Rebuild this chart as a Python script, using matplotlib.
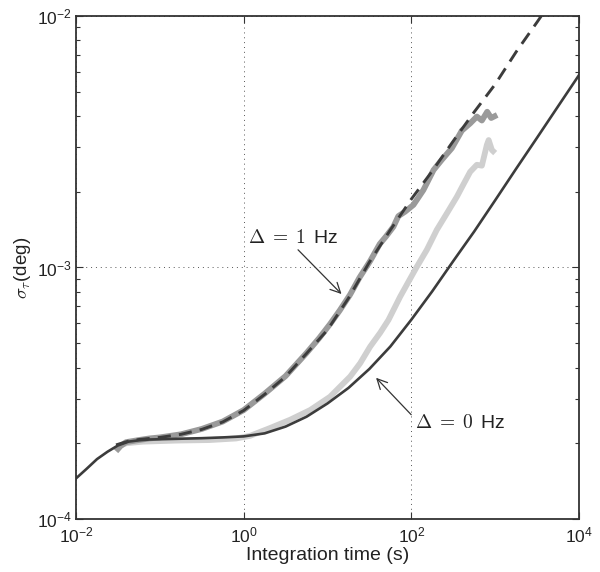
import numpy as np
import matplotlib
matplotlib.use("Agg")
import matplotlib.pyplot as plt
from matplotlib.ticker import FuncFormatter, FixedLocator, LogLocator, NullLocator

plt.rcParams['font.family'] = ['Liberation Sans', 'DejaVu Sans']

# theory, delta = 0 Hz (solid)
t_theory0 = [0.01, 0.0133, 0.0178, 0.0237, 0.0316, 0.0422, 0.0562, 0.075, 0.1,
             0.178, 0.316, 0.562, 1.0, 1.78, 3.16, 5.62, 10, 17.8, 31.6, 56.2,
             100, 178, 316, 562, 1000, 1780, 3160, 5620, 10000]
s_theory0 = [1.45e-4, 1.58e-4, 1.73e-4, 1.85e-4, 1.96e-4, 2.03e-4, 2.055e-4, 2.07e-4,
             2.075e-4, 2.085e-4, 2.095e-4, 2.11e-4, 2.13e-4, 2.19e-4, 2.33e-4, 2.55e-4,
             2.88e-4, 3.32e-4, 3.95e-4, 4.85e-4, 6.2e-4, 8.05e-4, 1.06e-3, 1.39e-3,
             1.85e-3, 2.47e-3, 3.28e-3, 4.37e-3, 5.82e-3]

# theory, delta = 1 Hz (dashed)
t_theory1 = [0.03, 0.0422, 0.0562, 0.075, 0.1, 0.178, 0.316, 0.562, 1.0, 1.78,
             3.16, 5.62, 10, 17.8, 31.6, 56.2, 100, 178, 316, 562, 1000, 1780,
             3160, 3700]
s_theory1 = [1.97e-4, 2.04e-4, 2.07e-4, 2.09e-4, 2.11e-4, 2.17e-4, 2.27e-4, 2.43e-4,
             2.70e-4, 3.13e-4, 3.68e-4, 4.55e-4, 5.65e-4, 7.55e-4, 1.05e-3, 1.41e-3,
             1.87e-3, 2.42e-3, 3.18e-3, 4.15e-3, 5.35e-3, 7.2e-3, 9.45e-3, 1.02e-2]

# measured, delta = 1 Hz (mid gray)
t_meas1 = [0.030, 0.034, 0.0395, 0.0562, 0.075, 0.1, 0.178, 0.316, 0.562, 1.0,
           1.78, 3.16, 5.62, 8.0, 10.7, 14.0, 18.6, 24.0, 32.2, 42.0, 50.0, 61.1,
           70.0, 84.3, 106, 139, 184, 231, 304, 400, 503, 605, 694, 803, 896, 1057]
s_meas1 = [1.86e-4, 1.95e-4, 2.02e-4, 2.06e-4, 2.09e-4, 2.11e-4, 2.17e-4, 2.28e-4,
           2.44e-4, 2.71e-4, 3.15e-4, 3.70e-4, 4.57e-4, 5.25e-4, 5.95e-4, 6.75e-4,
           7.8e-4, 9.1e-4, 1.06e-3, 1.24e-3, 1.33e-3, 1.452e-3, 1.60e-3, 1.667e-3,
           1.774e-3, 2.03e-3, 2.44e-3, 2.68e-3, 2.98e-3, 3.50e-3, 3.74e-3, 3.98e-3,
           3.84e-3, 4.16e-3, 3.93e-3, 4.04e-3]

# measured, delta = 0 Hz (light gray)
t_meas0 = [0.030, 0.034, 0.0395, 0.0625, 0.156, 0.39, 0.81, 1.19, 2.07, 3.58, 6.2,
           10.7, 18.6, 24.5, 32.2, 42.5, 53.3, 73.5, 114, 153, 201, 265, 349, 415,
           503, 605, 694, 796, 836, 914, 1000]
s_meas0 = [1.88e-4, 1.96e-4, 2.0e-4, 2.03e-4, 2.05e-4, 2.06e-4, 2.09e-4, 2.14e-4,
           2.30e-4, 2.48e-4, 2.71e-4, 3.06e-4, 3.68e-4, 4.16e-4, 4.84e-4, 5.50e-4,
           6.18e-4, 7.65e-4, 9.95e-4, 1.175e-3, 1.41e-3, 1.64e-3, 1.91e-3, 2.13e-3,
           2.40e-3, 2.56e-3, 2.54e-3, 3.07e-3, 3.21e-3, 2.93e-3, 2.85e-3]

fig = plt.figure(figsize=(6, 5.72), dpi=100)
ax = fig.add_axes([0.1267, 0.0927, 0.8383, 0.8794])

ax.loglog(t_meas0, s_meas0, color='#cfcfcf', lw=4.2, solid_joinstyle='round',
          solid_capstyle='butt')
ax.loglog(t_meas1, s_meas1, color='#9a9a9a', lw=4.2, solid_joinstyle='round',
          solid_capstyle='butt')
ax.loglog(t_theory0, s_theory0, color='#3c3c3c', lw=1.9)
ax.loglog(t_theory1, s_theory1, color='#3c3c3c', lw=2.1, ls=(0, (4.5, 2.8)))

ax.set_xlim(1e-2, 1e4)
ax.set_ylim(1e-4, 1e-2)

ax.xaxis.set_major_locator(FixedLocator([1e-2, 1e0, 1e2, 1e4]))
ax.xaxis.set_minor_locator(NullLocator())
ax.yaxis.set_major_locator(FixedLocator([1e-4, 1e-3, 1e-2]))
ax.yaxis.set_minor_locator(LogLocator(base=10, subs=np.arange(2, 10), numticks=20))

fmt = FuncFormatter(lambda v, p: r'$\mathregular{10^{%d}}$' % int(round(np.log10(v))))
ax.xaxis.set_major_formatter(fmt)
ax.yaxis.set_major_formatter(fmt)

ax.tick_params(which='both', direction='in', top=True, right=True, colors='#333333',
               labelcolor='#222222', labelsize=12.5)
ax.tick_params(which='major', length=5, width=0.8)
ax.tick_params(which='minor', length=3, width=0.8)
ax.tick_params(axis='x', pad=5)
ax.tick_params(axis='y', pad=3)
for sp in ax.spines.values():
    sp.set_color('#333333')
    sp.set_linewidth(1.3)

ax.grid(True, which='major', ls=(0, (1, 4)), color='#555555', lw=0.7)

ax.set_xlabel('Integration time (s)', fontsize=14, color='#222222', labelpad=1)
ax.set_ylabel(r'$\sigma_\tau$(deg)', fontsize=13.5, color='#222222',
              math_fontfamily='cm', labelpad=3)

arrow = dict(arrowstyle='->', color='#333333', lw=0.9, mutation_scale=18)
ax.annotate('', xy=(15.5, 7.7e-4), xytext=(4.22, 1.197e-3), arrowprops=arrow)
ax.text(1.13, 1.31e-3, r'$\Delta\;=\;1\,$ Hz', fontsize=14, color='#222222',
        math_fontfamily='cm', va='center', ha='left')
ax.annotate('', xy=(36, 3.71e-4), xytext=(105, 2.55e-4), arrowprops=arrow)
ax.text(111, 2.41e-4, r'$\Delta\;=\;0\,$ Hz', fontsize=14, color='#222222',
        math_fontfamily='cm', va='center', ha='left')

fig.savefig('out.png', dpi=100)
